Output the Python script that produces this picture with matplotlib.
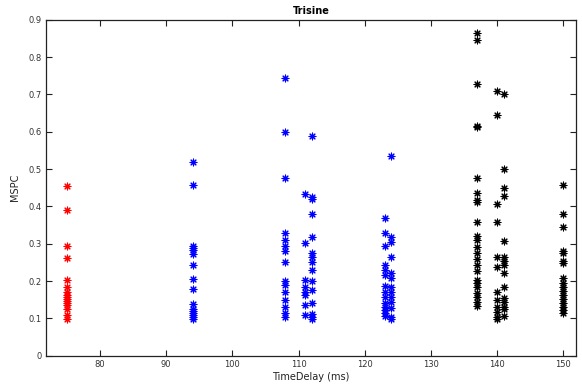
import matplotlib
matplotlib.use("Agg")
import matplotlib.pyplot as plt
from matplotlib.ticker import FuncFormatter

# MSPC values per time delay (ms)
red_delay = 75
red_mspc = [0.455, 0.390, 0.295, 0.262, 0.203, 0.183, 0.171, 0.163, 0.158,
            0.153, 0.147, 0.142, 0.136, 0.125, 0.108, 0.098]

blue_delays = [94, 108, 111, 112, 123, 124]
blue_mspc = {
    94: [0.518, 0.457, 0.294, 0.288, 0.282, 0.273, 0.242, 0.206, 0.178,
         0.138, 0.125, 0.119, 0.114, 0.108, 0.103, 0.098],
    108: [0.745, 0.600, 0.475, 0.330, 0.310, 0.295, 0.280, 0.250, 0.200,
          0.190, 0.170, 0.150, 0.130, 0.115, 0.105],
    111: [0.432, 0.301, 0.202, 0.185, 0.170, 0.163, 0.136, 0.108],
    112: [0.589, 0.426, 0.420, 0.380, 0.318, 0.274, 0.265, 0.250, 0.229,
          0.200, 0.176, 0.142, 0.112, 0.104, 0.099],
    123: [0.370, 0.329, 0.293, 0.244, 0.230, 0.217, 0.188, 0.171, 0.158,
          0.140, 0.131, 0.122, 0.114, 0.106],
    124: [0.534, 0.318, 0.305, 0.264, 0.222, 0.207, 0.185, 0.171, 0.158,
          0.145, 0.127, 0.104, 0.098],
}

black_delays = [137, 140, 141, 150]
black_mspc = {
    137: [0.864, 0.846, 0.727, 0.615, 0.612, 0.476, 0.435, 0.417, 0.413,
          0.357, 0.321, 0.310, 0.292, 0.274, 0.258, 0.243, 0.228, 0.203,
          0.194, 0.185, 0.167, 0.158, 0.145, 0.134],
    140: [0.709, 0.646, 0.406, 0.357, 0.264, 0.238, 0.171, 0.149, 0.131,
          0.118, 0.104, 0.098],
    141: [0.701, 0.500, 0.450, 0.429, 0.307, 0.264, 0.254, 0.243, 0.221,
          0.185, 0.155, 0.145, 0.130, 0.124, 0.106],
    150: [0.457, 0.379, 0.346, 0.280, 0.276, 0.254, 0.248, 0.208, 0.196,
          0.185, 0.174, 0.162, 0.151, 0.140, 0.131, 0.122, 0.115],
}

x_ticks = [80, 90, 100, 110, 120, 130, 140, 150]
y_ticks = [0, 0.1, 0.2, 0.3, 0.4, 0.5, 0.6, 0.7, 0.8, 0.9]

fig = plt.figure(figsize=(5.82, 3.88), dpi=100)
ax = fig.add_axes([0.0785, 0.0832, 0.9112, 0.8660])

# eight-armed asterisk marker
star = (8, 2, 0)
mk = dict(marker=star, s=24, linewidths=0.8)

ax.scatter([red_delay] * len(red_mspc), red_mspc, color="#ff0000", **mk)
for d in blue_delays:
    ax.scatter([d] * len(blue_mspc[d]), blue_mspc[d], color="#0000ff", **mk)
for d in black_delays:
    ax.scatter([d] * len(black_mspc[d]), black_mspc[d], color="#000000", **mk)

ax.set_xlim(71.8, 151.9)
ax.set_ylim(0, 0.9)
ax.set_xticks(x_ticks)
ax.set_yticks(y_ticks)
ax.yaxis.set_major_formatter(FuncFormatter(lambda v, p: "0" if v == 0 else f"{v:g}"))

ax.tick_params(direction="in", length=4, width=0.8, top=True, right=True,
               labelsize=6, colors="#222222", labelcolor="#333333", pad=3)
for s in ax.spines.values():
    s.set_linewidth(0.9)
    s.set_color("#222222")

ax.set_title("Trisine", fontsize=7, fontweight="bold", pad=4)
ax.set_xlabel("TimeDelay (ms)", fontsize=7, labelpad=2, color="#222222")
ax.set_ylabel("MSPC", fontsize=7, labelpad=6, color="#222222")

fig.savefig("out.png", dpi=100)
